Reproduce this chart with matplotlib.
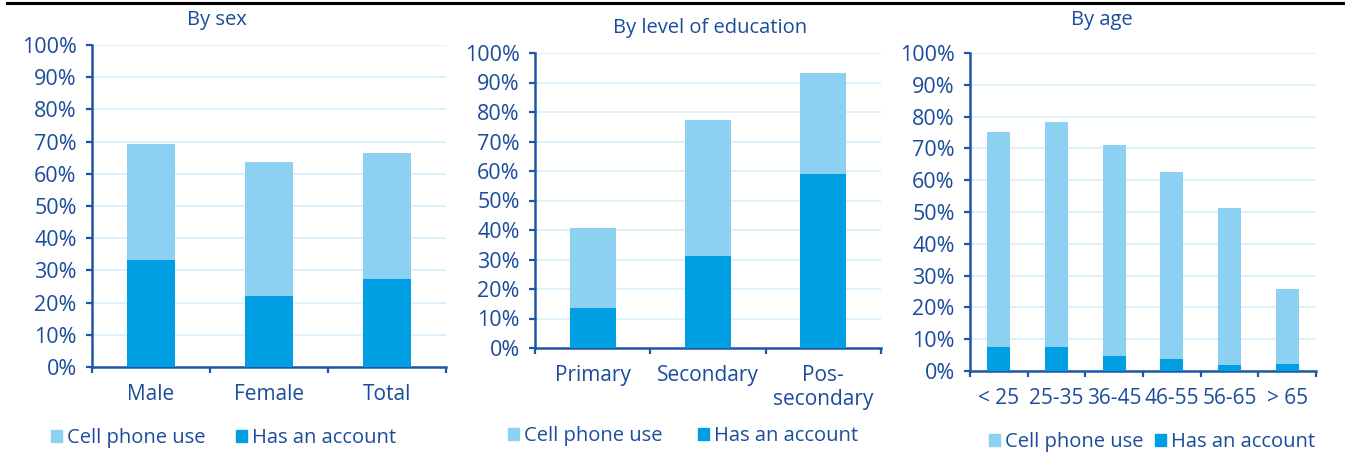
import numpy as np
import matplotlib
matplotlib.use("Agg")
import matplotlib.pyplot as plt
from matplotlib.lines import Line2D
from matplotlib.patches import Patch

plt.rcParams['font.family'] = ['Open Sans', 'DejaVu Sans']

# data (percent)
sex_cats = ["Male", "Female", "Total"]
sex_phone = [69.3, 63.7, 66.4]
sex_account = [33.2, 22.0, 27.4]

edu_cats = ["Primary", "Secondary", "Pos-\nsecondary"]
edu_phone = [40.6, 77.2, 93.2]
edu_account = [13.5, 31.2, 58.9]

age_cats = ["< 25", "25-35", "36-45", "46-55", "56-65", "> 65"]
age_phone = [75.2, 78.4, 71.1, 62.5, 51.4, 25.9]
age_account = [7.6, 7.6, 4.7, 3.8, 1.8, 2.2]

titles = ["By sex", "By level of education", "By age"]
legend_labels = ["Cell phone use", "Has an account"]

LIGHT = "#8CD1F2"
DARK = "#009FE3"
TEXT = "#1B4C9C"
SPINE = "#1F55A6"
GRID = "#D6EFFB"

W, H = 1345, 453
fig = plt.figure(figsize=(W / 100, H / 100), dpi=100)


def px_axes(left, top, right, bottom):
    return fig.add_axes([left / W, 1 - bottom / H, (right - left) / W, (bottom - top) / H])


panels = [
    (sex_cats, sex_phone, sex_account, (92, 45, 446, 367)),
    (edu_cats, edu_phone, edu_account, (535, 53, 881, 348)),
    (age_cats, age_phone, age_account, (970, 53, 1316, 371)),
]
title_pos = [(217, 20), (710, 28), (1102, 20)]
legend_pos = [(51, 438, 1.5), (508, 436, 1.75), (989, 442, 0.55)]

for i, (cats, phone, account, box) in enumerate(panels):
    ax = px_axes(*box)
    x = np.arange(len(cats))
    ax.bar(x, phone, width=0.4, color=LIGHT, zorder=2)
    ax.bar(x, account, width=0.4, color=DARK, zorder=3)
    ax.set_xlim(-0.5, len(cats) - 0.5)
    ax.set_ylim(0, 100)
    ax.set_yticks(np.arange(0, 101, 10))
    ax.set_yticklabels([f"{v}%" for v in range(0, 101, 10)])
    ax.set_xticks(x)
    ax.set_xticklabels(cats)
    ax.set_xticks(np.arange(-0.5, len(cats), 1), minor=True)
    ax.tick_params(axis='x', which='major', length=0, pad=12, labelsize=15, labelcolor=TEXT)
    ax.tick_params(axis='x', which='minor', length=4, width=1.6, color=SPINE, direction='out')
    ax.tick_params(axis='y', length=4, width=1.6, color=SPINE, pad=7, labelsize=15.5, labelcolor=TEXT)
    ax.grid(axis='y', color=GRID, linewidth=1.2, zorder=0)
    ax.set_axisbelow(True)
    for s in ['top', 'right']:
        ax.spines[s].set_visible(False)
    for s in ['left', 'bottom']:
        ax.spines[s].set_color(SPINE)
        ax.spines[s].set_linewidth(1.8)
    tx, ty = title_pos[i]
    fig.text(tx / W, 1 - ty / H, titles[i], ha='center', va='center', fontsize=14.5, color=TEXT)
    lx, ly, cs = legend_pos[i]
    handles = [Patch(color=LIGHT), Patch(color=DARK)]
    leg = fig.legend(handles, legend_labels, loc='center left', bbox_to_anchor=(lx / W, 1 - ly / H),
                     ncol=2, frameon=False, fontsize=14.5, handlelength=0.55, handleheight=0.55,
                     handletextpad=0.25, columnspacing=cs, borderpad=0, borderaxespad=0)
    for t in leg.get_texts():
        t.set_color(TEXT)

fig.add_artist(Line2D([7 / W, 1], [1 - 3 / H, 1 - 3 / H], color='black', linewidth=2.2))

fig.savefig("out.png", dpi=100)
